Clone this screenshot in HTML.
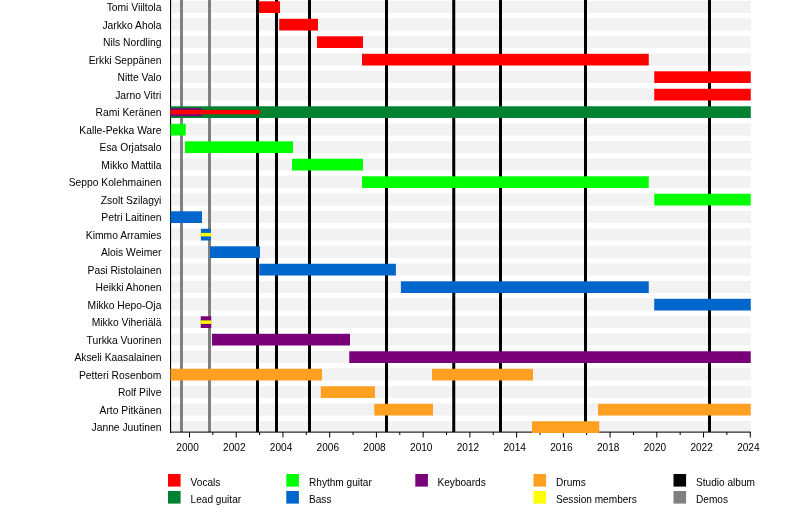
<!DOCTYPE html>
<html><head><meta charset="utf-8"><style>
html,body{margin:0;padding:0;background:#fff;}
body{width:800px;height:512px;overflow:hidden;}
svg{display:block;font-family:"Liberation Sans",sans-serif;will-change:transform;}
</style></head><body>
<svg width="800" height="512" viewBox="0 0 800 512">
<rect x="0" y="0" width="800" height="512" fill="#fff"/>
<g fill="#f2f2f2">
<rect x="171" y="0.9" width="580" height="12.1"/>
<rect x="171" y="18.4" width="580" height="12.1"/>
<rect x="171" y="35.9" width="580" height="12.1"/>
<rect x="171" y="53.4" width="580" height="12.1"/>
<rect x="171" y="70.9" width="580" height="12.1"/>
<rect x="171" y="88.4" width="580" height="12.1"/>
<rect x="171" y="105.9" width="580" height="12.1"/>
<rect x="171" y="123.4" width="580" height="12.1"/>
<rect x="171" y="140.9" width="580" height="12.1"/>
<rect x="171" y="158.4" width="580" height="12.1"/>
<rect x="171" y="175.9" width="580" height="12.1"/>
<rect x="171" y="193.4" width="580" height="12.1"/>
<rect x="171" y="210.9" width="580" height="12.1"/>
<rect x="171" y="228.4" width="580" height="12.1"/>
<rect x="171" y="245.9" width="580" height="12.1"/>
<rect x="171" y="263.4" width="580" height="12.1"/>
<rect x="171" y="280.9" width="580" height="12.1"/>
<rect x="171" y="298.4" width="580" height="12.1"/>
<rect x="171" y="315.9" width="580" height="12.1"/>
<rect x="171" y="333.4" width="580" height="12.1"/>
<rect x="171" y="350.9" width="580" height="12.1"/>
<rect x="171" y="368.4" width="580" height="12.1"/>
<rect x="171" y="385.9" width="580" height="12.1"/>
<rect x="171" y="403.4" width="580" height="12.1"/>
<rect x="171" y="420.9" width="580" height="12.1"/>
</g>
<rect x="180" y="0" width="3" height="432" fill="#808080"/>
<rect x="208" y="0" width="3" height="432" fill="#808080"/>
<rect x="256" y="0" width="3" height="432" fill="#000000"/>
<rect x="275" y="0" width="3" height="432" fill="#000000"/>
<rect x="308" y="0" width="3" height="432" fill="#000000"/>
<rect x="385" y="0" width="3" height="432" fill="#000000"/>
<rect x="452.25" y="0" width="3" height="432" fill="#000000"/>
<rect x="499" y="0" width="3" height="432" fill="#000000"/>
<rect x="584" y="0" width="3" height="432" fill="#000000"/>
<rect x="708" y="0" width="3" height="432" fill="#000000"/>
<rect x="170" y="0" width="1.1" height="433" fill="#000"/>
<rect x="170" y="431.6" width="580.75" height="1" fill="#000"/>
<g fill="#000">
<rect x="189" y="432" width="1" height="5.5"/>
<rect x="212.37" y="432" width="1" height="3"/>
<rect x="235.73" y="432" width="1" height="5.5"/>
<rect x="259.1" y="432" width="1" height="3"/>
<rect x="282.46" y="432" width="1" height="5.5"/>
<rect x="305.82" y="432" width="1" height="3"/>
<rect x="329.19" y="432" width="1" height="5.5"/>
<rect x="352.55" y="432" width="1" height="3"/>
<rect x="375.92" y="432" width="1" height="5.5"/>
<rect x="399.28" y="432" width="1" height="3"/>
<rect x="422.65" y="432" width="1" height="5.5"/>
<rect x="446.01" y="432" width="1" height="3"/>
<rect x="469.38" y="432" width="1" height="5.5"/>
<rect x="492.75" y="432" width="1" height="3"/>
<rect x="516.11" y="432" width="1" height="5.5"/>
<rect x="539.47" y="432" width="1" height="3"/>
<rect x="562.84" y="432" width="1" height="5.5"/>
<rect x="586.2" y="432" width="1" height="3"/>
<rect x="609.57" y="432" width="1" height="5.5"/>
<rect x="632.93" y="432" width="1" height="3"/>
<rect x="656.3" y="432" width="1" height="5.5"/>
<rect x="679.66" y="432" width="1" height="3"/>
<rect x="703.03" y="432" width="1" height="5.5"/>
<rect x="726.39" y="432" width="1" height="3"/>
<rect x="749.76" y="432" width="1" height="5.5"/>
</g>
<g font-size="10.1" text-anchor="middle" fill="#000">
<text x="187.6" y="450.6">2000</text>
<text x="234.33" y="450.6">2002</text>
<text x="281.06" y="450.6">2004</text>
<text x="327.79" y="450.6">2006</text>
<text x="374.52" y="450.6">2008</text>
<text x="421.25" y="450.6">2010</text>
<text x="467.98" y="450.6">2012</text>
<text x="514.71" y="450.6">2014</text>
<text x="561.44" y="450.6">2016</text>
<text x="608.17" y="450.6">2018</text>
<text x="654.9" y="450.6">2020</text>
<text x="701.63" y="450.6">2022</text>
<text x="748.36" y="450.6">2024</text>
</g>
<g font-size="10.3" text-anchor="end" fill="#000">
<text x="161.4" y="11.1">Tomi Viiltola</text>
<text x="161.4" y="28.6">Jarkko Ahola</text>
<text x="161.4" y="46.1">Nils Nordling</text>
<text x="161.4" y="63.6">Erkki Seppänen</text>
<text x="161.4" y="81.1">Nitte Valo</text>
<text x="161.4" y="98.6">Jarno Vitri</text>
<text x="161.4" y="116.1">Rami Keränen</text>
<text x="161.4" y="133.6">Kalle-Pekka Ware</text>
<text x="161.4" y="151.1">Esa Orjatsalo</text>
<text x="161.4" y="168.6">Mikko Mattila</text>
<text x="161.4" y="186.1">Seppo Kolehmainen</text>
<text x="161.4" y="203.6">Zsolt Szilagyi</text>
<text x="161.4" y="221.1">Petri Laitinen</text>
<text x="161.4" y="238.6">Kimmo Arramies</text>
<text x="161.4" y="256.1">Alois Weimer</text>
<text x="161.4" y="273.6">Pasi Ristolainen</text>
<text x="161.4" y="291.1">Heikki Ahonen</text>
<text x="161.4" y="308.6">Mikko Hepo-Oja</text>
<text x="161.4" y="326.1">Mikko Viheriälä</text>
<text x="161.4" y="343.6">Turkka Vuorinen</text>
<text x="161.4" y="361.1">Akseli Kaasalainen</text>
<text x="161.4" y="378.6">Petteri Rosenbom</text>
<text x="161.4" y="396.1">Rolf Pilve</text>
<text x="161.4" y="413.6">Arto Pitkänen</text>
<text x="161.4" y="431.1">Janne Juutinen</text>
</g>
<rect x="259" y="1.3" width="21" height="11.7" fill="#ff0000"/>
<rect x="279.2" y="18.8" width="38.8" height="11.7" fill="#ff0000"/>
<rect x="317" y="36.3" width="46" height="11.7" fill="#ff0000"/>
<rect x="362" y="53.8" width="286.75" height="11.7" fill="#ff0000"/>
<rect x="654.25" y="71.3" width="96.5" height="11.7" fill="#ff0000"/>
<rect x="654.25" y="88.8" width="96.5" height="11.7" fill="#ff0000"/>
<rect x="170.5" y="106.3" width="580.25" height="11.7" fill="#008232"/>
<rect x="170.5" y="123.8" width="15.25" height="11.7" fill="#00ff00"/>
<rect x="185" y="141.3" width="108" height="11.7" fill="#00ff00"/>
<rect x="292" y="158.8" width="71" height="11.7" fill="#00ff00"/>
<rect x="362" y="176.3" width="286.75" height="11.7" fill="#00ff00"/>
<rect x="654.25" y="193.8" width="96.5" height="11.7" fill="#00ff00"/>
<rect x="170.5" y="211.3" width="31.5" height="11.7" fill="#0066cc"/>
<rect x="200.9" y="228.8" width="10" height="11.7" fill="#0066cc"/>
<rect x="210" y="246.3" width="50" height="11.7" fill="#0066cc"/>
<rect x="259.25" y="263.8" width="136.65" height="11.7" fill="#0066cc"/>
<rect x="400.9" y="281.3" width="247.85" height="11.7" fill="#0066cc"/>
<rect x="654.25" y="298.8" width="96.5" height="11.7" fill="#0066cc"/>
<rect x="200.75" y="316.3" width="10.5" height="11.7" fill="#7a007a"/>
<rect x="212" y="333.8" width="138" height="11.7" fill="#7a007a"/>
<rect x="349.25" y="351.3" width="401.5" height="11.7" fill="#7a007a"/>
<rect x="170.5" y="368.8" width="151.5" height="11.7" fill="#ffa020"/>
<rect x="432" y="368.8" width="101" height="11.7" fill="#ffa020"/>
<rect x="320.75" y="386.3" width="54.25" height="11.7" fill="#ffa020"/>
<rect x="374.25" y="403.8" width="58.75" height="11.7" fill="#ffa020"/>
<rect x="598" y="403.8" width="152.75" height="11.7" fill="#ffa020"/>
<rect x="532" y="421.3" width="67.25" height="11.7" fill="#ffa020"/>
<rect x="170.5" y="108.2" width="31.3" height="8" fill="#7a007a"/>
<rect x="170.5" y="109.9" width="89.5" height="4.4" fill="#ff0000"/>
<rect x="200.5" y="232.9" width="11" height="3.5" fill="#ffff00"/>
<rect x="200.5" y="320.4" width="11" height="3.5" fill="#ffff00"/>
<g font-size="10.1" fill="#000">
<rect x="168" y="474" width="12.6" height="12.6" fill="#ff0000"/>
<text x="190.6" y="486">Vocals</text>
<rect x="168" y="491" width="12.6" height="12.6" fill="#008232"/>
<text x="190.6" y="503">Lead guitar</text>
<rect x="286.3" y="474" width="12.6" height="12.6" fill="#00ff00"/>
<text x="309" y="486">Rhythm guitar</text>
<rect x="286.3" y="491" width="12.6" height="12.6" fill="#0066cc"/>
<text x="309" y="503">Bass</text>
<rect x="415.3" y="474" width="12.6" height="12.6" fill="#7a007a"/>
<text x="437.5" y="486">Keyboards</text>
<rect x="533.5" y="474" width="12.6" height="12.6" fill="#ffa020"/>
<text x="556" y="486">Drums</text>
<rect x="533.5" y="491" width="12.6" height="12.6" fill="#ffff00"/>
<text x="556" y="503">Session members</text>
<rect x="673.5" y="474" width="12.6" height="12.6" fill="#000000"/>
<text x="696" y="486">Studio album</text>
<rect x="673.5" y="491" width="12.6" height="12.6" fill="#808080"/>
<text x="696" y="503">Demos</text>
</g>
</svg></body></html>
